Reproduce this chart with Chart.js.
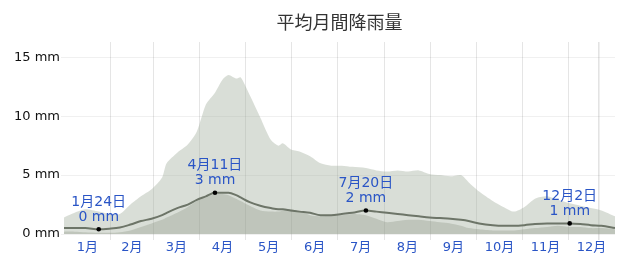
<!DOCTYPE html>
<html>
<head>
<meta charset="utf-8">
<script src="https://cdn.jsdelivr.net/npm/chart.js@4"></script>
<style>
  body { margin: 0; background: #fff; }
  #wrap { width: 633px; height: 261px; }
</style>
</head>
<body>
<div id="wrap"><canvas id="rainChart"></canvas></div>
<script>
var days = [0, 7, 14, 23, 30, 37, 44, 51, 58, 65, 68, 75, 82, 88, 94, 100, 105, 109, 114, 117,
  123, 130, 137, 142, 145, 150, 156, 163, 170, 177, 184, 191, 200, 207, 214, 221, 228, 235,
  242, 249, 256, 263, 268, 275, 284, 291, 298, 305, 312, 320, 327, 335, 342, 349, 356, 365];

// 90th percentile band (mm)
var p90 = [1.4, 1.8, 2.1, 1.9, 1.7, 1.7, 2.5, 3.2, 3.8, 4.8, 6.0, 6.9, 7.6, 8.7, 11.0, 12.0, 13.1, 13.5, 13.2, 13.3,
  11.8, 9.9, 8.0, 7.5, 7.7, 7.2, 7.0, 6.6, 6.0, 5.8, 5.8, 5.7, 5.6, 5.4, 5.3, 5.4, 5.3, 5.4,
  5.1, 5.0, 4.9, 5.0, 4.4, 3.6, 2.8, 2.3, 1.9, 2.3, 3.0, 3.2, 2.9, 2.6, 2.4, 2.2, 2.0, 1.5];

// 75th percentile band (mm)
var p75 = [0.2, 0.2, 0.15, 0.1, 0.1, 0.15, 0.3, 0.6, 0.9, 1.2, 1.4, 1.8, 2.3, 2.8, 3.1, 3.4, 3.4, 3.3, 3.0, 2.8,
  2.4, 2.0, 1.9, 1.9, 2.0, 2.1, 1.9, 1.6, 1.5, 1.6, 1.6, 1.7, 1.6, 1.3, 1.0, 1.1, 1.2, 1.2,
  1.1, 1.0, 0.9, 0.7, 0.5, 0.4, 0.3, 0.3, 0.3, 0.4, 0.5, 0.6, 0.7, 0.6, 0.6, 0.5, 0.5, 0.4];

// average rainfall line (mm)
var avg = [0.5, 0.5, 0.5, 0.4, 0.45, 0.55, 0.8, 1.1, 1.3, 1.6, 1.8, 2.2, 2.5, 2.9, 3.2, 3.5, 3.5, 3.5, 3.3, 3.1,
  2.7, 2.4, 2.2, 2.1, 2.1, 2.0, 1.9, 1.8, 1.6, 1.6, 1.7, 1.8, 2.0, 1.9, 1.8, 1.7, 1.6, 1.5,
  1.4, 1.35, 1.3, 1.2, 1.1, 0.9, 0.75, 0.7, 0.7, 0.75, 0.85, 0.9, 0.9, 0.9, 0.85, 0.75, 0.7, 0.5];

var monthNames = ['1月', '2月', '3月', '4月', '5月', '6月', '7月', '8月', '9月', '10月', '11月', '12月'];
var monthStarts = [0, 31, 59, 90, 120, 151, 181, 212, 243, 273, 304, 334, 365];
var todayDay = 354;
var yTicks = [0, 5, 10, 15];

var annDays = [23, 100, 200, 335];
var annDates = ['1月24日', '4月11日', '7月20日', '12月2日'];
var annTexts = ['0 mm', '3 mm', '2 mm', '1 mm'];

var blue = '#2a55c6';
var tickFont = { family: '"DejaVu Sans", "Noto Sans CJK JP", sans-serif', size: 13 };

function pts(vals) {
  return days.map(function (d, i) { return { x: d, y: vals[i] }; });
}

var monthMids = [];
for (var m = 0; m < 12; m++) monthMids.push((monthStarts[m] + monthStarts[m + 1]) / 2);

var annotationPlugin = {
  id: 'dayLabels',
  afterDatasetsDraw: function (chart) {
    var c = chart.ctx, xs = chart.scales.x, ys = chart.scales.y;
    c.save();
    c.font = '14px "DejaVu Sans", "Noto Sans CJK JP", sans-serif';
    c.fillStyle = blue;
    c.textAlign = 'center';
    c.textBaseline = 'middle';
    annDays.forEach(function (d, i) {
      var px = xs.getPixelForValue(d);
      var py = ys.getPixelForValue(avg[days.indexOf(d)]);
      c.fillText(annDates[i], px, py - 27);
      c.fillText(annTexts[i], px, py - 12);
    });
    c.restore();
  }
};

var ctx = document.getElementById('rainChart').getContext('2d');
new Chart(ctx, {
  type: 'line',
  data: {
    datasets: [{
      label: '平均',
      data: pts(avg),
      borderColor: '#6d7568',
      borderWidth: 2,
      cubicInterpolationMode: 'monotone',
      fill: false,
      pointRadius: function (c) { return annDays.indexOf(days[c.dataIndex]) >= 0 ? 2.3 : 0; },
      pointBackgroundColor: '#000',
      pointBorderWidth: 0
    }, {
      label: '75',
      data: pts(p75),
      borderWidth: 0,
      pointRadius: 0,
      tension: 0.25,
      fill: 'origin',
      backgroundColor: 'rgba(110,122,105,0.25)'
    }, {
      label: '90',
      data: pts(p90),
      borderWidth: 0,
      pointRadius: 0,
      tension: 0.25,
      fill: 'origin',
      backgroundColor: 'rgba(160,172,155,0.4)'
    }]
  },
  options: {
    responsive: true,
    maintainAspectRatio: false,
    animation: false,
    layout: { padding: { left: 0, right: 18, top: 0, bottom: 0 } },
    plugins: {
      legend: { display: false },
      tooltip: { enabled: false },
      title: {
        display: true,
        fullSize: false,
        text: '平均月間降雨量',
        color: '#333',
        font: { family: '"Noto Sans CJK JP", sans-serif', size: 18, weight: 'normal', lineHeight: 1.2 },
        padding: { top: 11, bottom: 9.4 }
      }
    },
    scales: {
      x: {
        type: 'linear',
        min: 0,
        max: 365,
        afterBuildTicks: function (axis) {
          var vals = monthStarts.slice(1, 12).concat(monthMids).concat([todayDay]);
          vals.sort(function (a, b) { return a - b; });
          axis.ticks = vals.map(function (v) { return { value: v }; });
        },
        afterFit: function (scale) { scale.height = 27; },
        border: { display: false },
        grid: {
          tickLength: 6,
          color: function (c) {
            var v = c.tick && c.tick.value;
            if (v === todayDay) return 'rgba(0,0,0,0.11)';
            return monthStarts.indexOf(v) >= 0 ? 'rgba(0,0,0,0.1)' : 'rgba(0,0,0,0)';
          },
          lineWidth: function (c) { return c.tick && c.tick.value === todayDay ? 1.6 : 1; }
        },
        ticks: {
          autoSkip: false,
          maxRotation: 0,
          padding: 0,
          color: blue,
          font: tickFont,
          callback: function (v) {
            var i = monthMids.indexOf(v);
            return i >= 0 ? monthNames[i] : '';
          }
        }
      },
      y: {
        min: 0,
        max: 16.3,
        afterBuildTicks: function (axis) {
          axis.ticks = yTicks.map(function (v) { return { value: v }; });
        },
        afterFit: function (scale) { scale.width = 64; },
        border: { display: false },
        grid: { tickLength: 3, color: 'rgba(0,0,0,0.06)' },
        ticks: {
          padding: 1,
          color: '#111',
          font: tickFont,
          callback: function (v) { return v + ' mm'; }
        }
      }
    }
  },
  plugins: [annotationPlugin]
});
</script>
</body>
</html>
